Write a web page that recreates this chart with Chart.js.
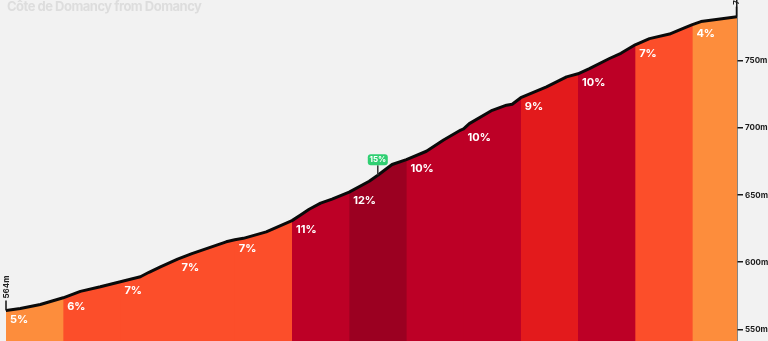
<!DOCTYPE html>
<html>
<head>
<meta charset="utf-8">
<title>Côte de Domancy</title>
<script src="https://cdn.jsdelivr.net/npm/chart.js@4.4.1/dist/chart.umd.min.js"></script>
<style>
    html, body { margin: 0; padding: 0; background: #f2f2f2; }
    #wrap { position: relative; width: 768px; height: 341px; overflow: hidden; }
    #title {
        position: absolute; left: 7px; top: -1px;
        font: 700 13px Inter, sans-serif; line-height: 14px;
        color: #dddddd; letter-spacing: -0.5px; white-space: nowrap;
    }
    canvas { display: block; }
</style>
</head>
<body>
<div id="wrap">
    <canvas id="climbChart" width="768" height="341"></canvas>
    <div id="title">Côte de Domancy from Domancy</div>
</div>
<script>
// Elevation profile (km from start, metres)
const distanceKm = [0, 0.05, 0.12, 0.2, 0.26, 0.33, 0.4, 0.47, 0.5, 0.54,
    0.6, 0.65, 0.77, 0.8, 0.83, 0.91, 1.0, 1.03, 1.06, 1.1,
    1.14, 1.2, 1.27, 1.3, 1.35, 1.4, 1.47, 1.53, 1.59, 1.6,
    1.62, 1.7, 1.75, 1.77, 1.8, 1.89, 1.96, 2.0, 2.04, 2.11,
    2.15, 2.2, 2.25, 2.32, 2.37, 2.4, 2.43, 2.49, 2.556];
const elevationM = [564, 565.5, 568.5, 573.5, 578.3, 581.7, 585.5, 589.2, 592.5, 596.6,
    602.3, 606.4, 615.2, 616.8, 617.8, 622.6, 631, 635.2, 639.5, 644,
    647, 652.2, 660.3, 664.8, 672.8, 676.5, 682.7, 691.1, 698.5, 699.3,
    703.3, 713.2, 717, 717.7, 722.6, 730.7, 738.1, 740.4, 744.3, 751.8,
    755.7, 762, 766.6, 770, 774.4, 777, 779.3, 781, 783];

// 200 m sections and their average gradient
const segmentStartKm = [0, 0.2, 0.4, 0.6, 0.8, 1.0, 1.2, 1.4, 1.6, 1.8, 2.0, 2.2, 2.4];
const segmentGrades = [5, 6, 7, 7, 7, 11, 12, 10, 10, 9, 10, 7, 4];

// steepest point
const maxGradeKm = 1.3;
const maxGrade = 15;

const yTicks = [550, 600, 650, 700, 750];

function gradeColor(g) {
    if (g <= 5) return '#fd8d3c';
    if (g <= 8) return '#fc4e2a';
    if (g <= 9) return '#e31a1c';
    if (g <= 11) return '#bd0026';
    return '#9b0021';
}

const profile = distanceKm.map((d, i) => ({ x: d, y: elevationM[i] }));
const lastKm = distanceKm[distanceKm.length - 1];

// one filled area per section; each one runs one point into the next
// section so the next fill (drawn later) covers the seam
const segmentSets = segmentStartKm.map((start, i) => {
    const end = i + 1 < segmentStartKm.length ? segmentStartKm[i + 1] : lastKm;
    const firstAfter = profile.findIndex(p => p.x > end);
    const pts = profile.filter(p => p.x >= start && p.x <= end);
    if (firstAfter > 0) pts.push(profile[firstAfter]);
    return {
        data: pts,
        fill: 'start',
        backgroundColor: gradeColor(segmentGrades[i]),
        borderWidth: 0,
        pointRadius: 0,
        order: 100 - i
    };
});

function elevAt(km) {
    const i = distanceKm.indexOf(km);
    return elevationM[i];
}

const annotations = {
    id: 'climbLabels',
    afterDatasetsDraw(chart) {
        const ctx = chart.ctx;
        const xs = chart.scales.x, ys = chart.scales.y;
        ctx.save();

        // gradient labels
        ctx.fillStyle = '#ffffff';
        ctx.font = '700 11px Inter, sans-serif';
        ctx.textBaseline = 'middle';
        ctx.textAlign = 'left';
        segmentStartKm.forEach((start, i) => {
            const px = xs.getPixelForValue(start) + 4;
            const py = ys.getPixelForValue(elevAt(start)) + 9;
            ctx.fillText(segmentGrades[i] + '%', px, py);
        });

        // start / finish altitude markers
        ctx.strokeStyle = '#111';
        ctx.lineWidth = 1.5;
        ctx.fillStyle = '#222';
        ctx.font = '700 8px Inter, sans-serif';
        [0, lastKm].forEach(km => {
            const px = Math.round(xs.getPixelForValue(km)) - (km === 0 ? 0 : 0.5);
            const py = ys.getPixelForValue(elevAt(km));
            ctx.beginPath();
            ctx.moveTo(px, py);
            ctx.lineTo(px, py - 10);
            ctx.stroke();
            ctx.save();
            ctx.translate(px + 0.5, py - 12);
            ctx.rotate(-Math.PI / 2);
            ctx.textAlign = 'left';
            ctx.textBaseline = 'middle';
            ctx.fillText(Math.round(elevAt(km)) + 'm', 0, 0);
            ctx.restore();
        });

        // steepest point flag
        const mx = xs.getPixelForValue(maxGradeKm);
        const my = ys.getPixelForValue(elevAt(maxGradeKm));
        ctx.strokeStyle = '#333';
        ctx.lineWidth = 1.5;
        ctx.beginPath();
        ctx.moveTo(mx, my);
        ctx.lineTo(mx, my - 10);
        ctx.stroke();
        ctx.fillStyle = '#2fcf72';
        ctx.beginPath();
        ctx.roundRect(mx - 10, my - 21, 20, 11, 3);
        ctx.fill();
        ctx.fillStyle = '#ffffff';
        ctx.font = '700 8px Inter, sans-serif';
        ctx.textAlign = 'center';
        ctx.textBaseline = 'middle';
        ctx.fillText(maxGrade + '%', mx, my - 15.3);

        ctx.restore();
    }
};

const chartCtx = document.getElementById('climbChart').getContext('2d');
new Chart(chartCtx, {
    type: 'line',
    data: {
        datasets: [{
            data: profile,
            fill: false,
            borderColor: '#0a0a0a',
            borderWidth: 3,
            borderCapStyle: 'round',
            borderJoinStyle: 'round',
            pointRadius: 0,
            tension: 0,
            order: 0
        }].concat(segmentSets)
    },
    options: {
        responsive: false,
        animation: false,
        layout: { padding: { left: 6, right: 0, top: 0, bottom: 0 } },
        plugins: {
            legend: { display: false },
            tooltip: { enabled: false }
        },
        scales: {
            x: {
                type: 'linear',
                min: 0,
                max: lastKm,
                display: false
            },
            y: {
                position: 'right',
                min: 541.3,
                max: 795.4,
                afterBuildTicks: scale => {
                    scale.ticks = yTicks.map(v => ({ value: v }));
                },
                afterFit: scale => {
                    scale.width = 31;
                    scale.paddingTop = 0;
                    scale.paddingBottom = 0;
                },
                grid: {
                    drawOnChartArea: false,
                    tickLength: 6,
                    color: '#1a1a1a',
                    lineWidth: 1.5
                },
                border: { display: true, color: '#1a1a1a', width: 1.5 },
                ticks: {
                    padding: 2,
                    color: '#1a1a1a',
                    font: { family: 'Inter', size: 8, weight: '700' },
                    callback: v => v + 'm'
                }
            }
        }
    },
    plugins: [annotations]
});
</script>
</body>
</html>
